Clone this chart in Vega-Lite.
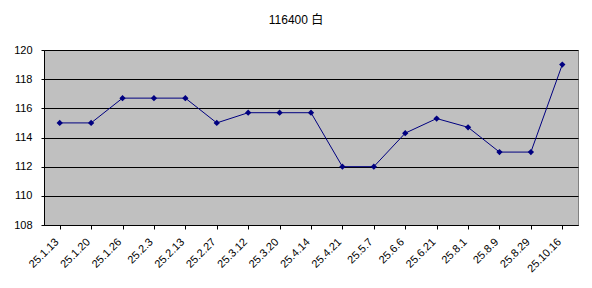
{
  "$schema": "https://vega.github.io/schema/vega-lite/v6.json",
  "autosize": "none",
  "width": 534,
  "height": 175,
  "padding": {"left": 44, "top": 50, "right": 14, "bottom": 63},
  "background": "white",
  "title": {
    "text": "116400 白",
    "font": "Liberation Sans Narrow, Liberation Sans, Noto Sans CJK JP",
    "fontSize": 12,
    "fontWeight": "normal",
    "color": "black",
    "anchor": "middle",
    "frame": "group",
    "dx": -15,
    "offset": 17
  },
  "data": {
    "values": [
      {"date": "25.1.13", "value": 115.0},
      {"date": "25.1.20", "value": 115.0},
      {"date": "25.1.26", "value": 116.7},
      {"date": "25.2.3", "value": 116.7},
      {"date": "25.2.13", "value": 116.7},
      {"date": "25.2.27", "value": 115.0},
      {"date": "25.3.12", "value": 115.7},
      {"date": "25.3.20", "value": 115.7},
      {"date": "25.4.14", "value": 115.7},
      {"date": "25.4.21", "value": 112.0},
      {"date": "25.5.7", "value": 112.0},
      {"date": "25.6.6", "value": 114.3},
      {"date": "25.6.21", "value": 115.3},
      {"date": "25.8.1", "value": 114.7},
      {"date": "25.8.9", "value": 113.0},
      {"date": "25.8.29", "value": 113.0},
      {"date": "25.10.16", "value": 119.0}
    ]
  },
  "config": {
    "view": {"fill": "#c0c0c0", "stroke": "#808080", "strokeWidth": 1},
    "axis": {
      "labelFont": "Liberation Sans Narrow, Liberation Sans",
      "labelFontSize": 11,
      "labelColor": "black",
      "domainColor": "black",
      "tickColor": "black",
      "title": null
    }
  },
  "encoding": {
    "x": {
      "field": "date",
      "type": "ordinal",
      "sort": null,
      "scale": {"paddingInner": 0, "paddingOuter": 0},
      "axis": {
        "labelAngle": -45,
        "labelAlign": "right",
        "labelBaseline": "middle",
        "bandPosition": 0,
        "labelOffset": -3,
        "tickSize": 4,
        "labelPadding": 11,
        "grid": false
      }
    },
    "y": {
      "field": "value",
      "type": "quantitative",
      "scale": {"domain": [108, 120], "nice": false, "zero": false},
      "axis": {
        "values": [108, 110, 112, 114, 116, 118, 120],
        "grid": true,
        "gridColor": "black",
        "gridWidth": 1,
        "gridOpacity": 1,
        "tickSize": 3,
        "labelPadding": 9
      }
    }
  },
  "layer": [
    {"mark": {"type": "line", "color": "#000080", "strokeWidth": 1}},
    {"mark": {"type": "point", "shape": "diamond", "filled": true, "color": "#000080", "size": 40, "opacity": 1}}
  ]
}
